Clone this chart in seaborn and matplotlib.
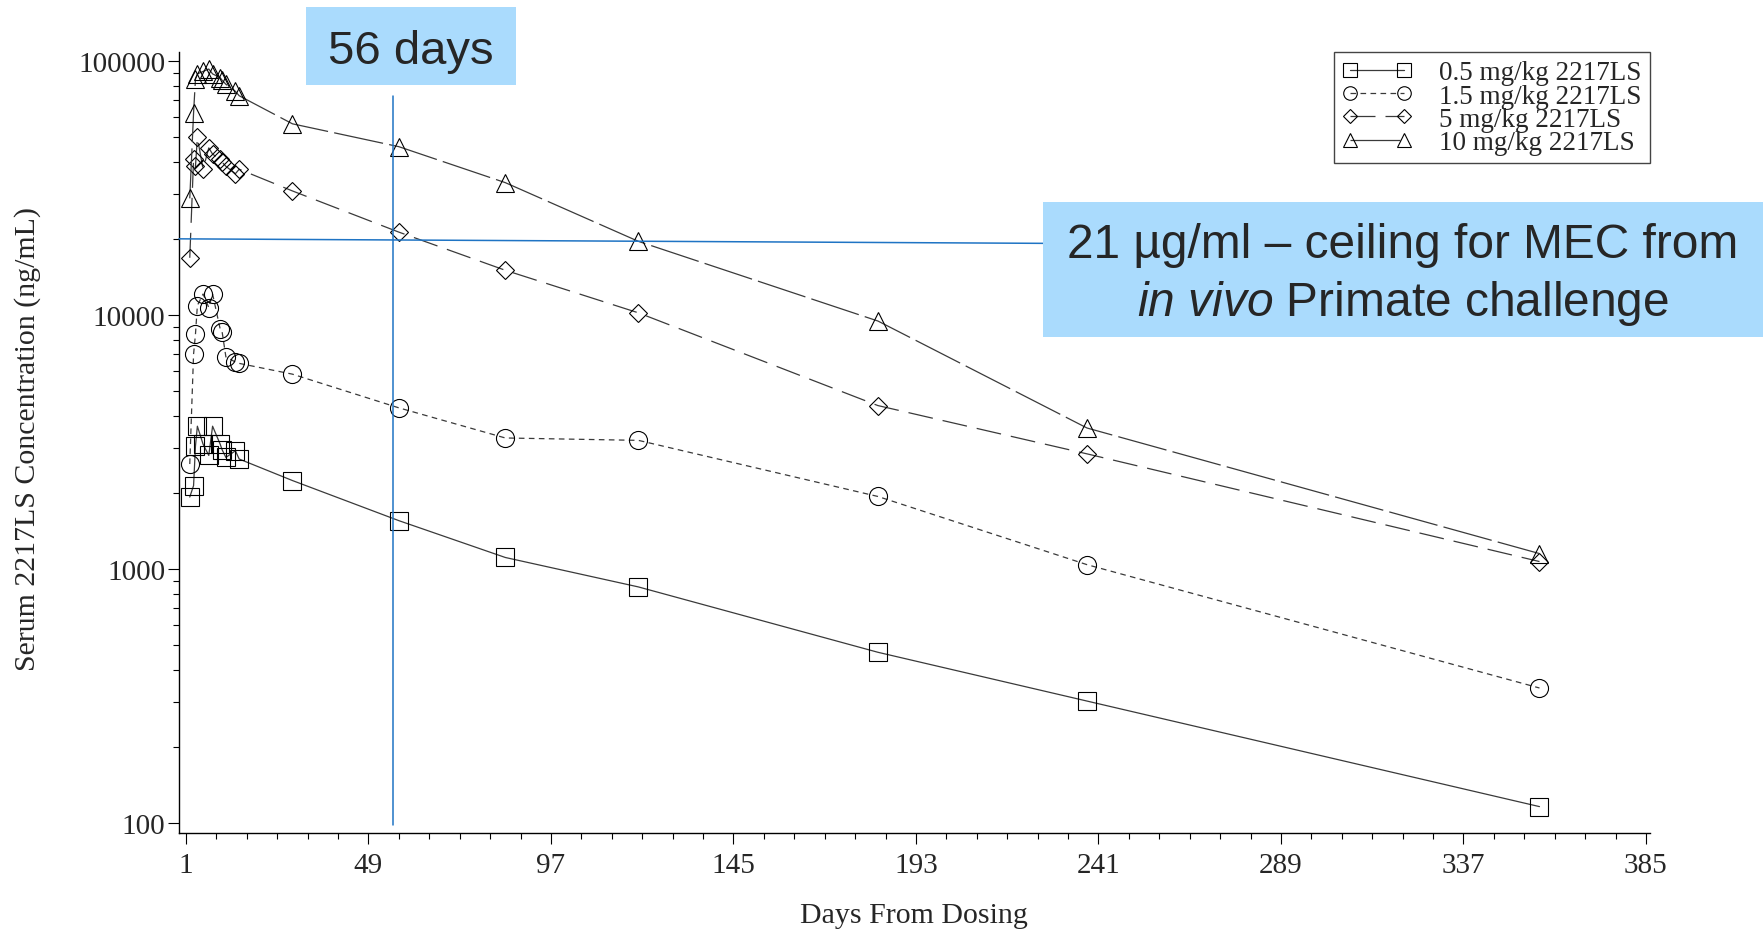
import matplotlib
matplotlib.use("Agg")
import matplotlib.pyplot as plt
import seaborn as sns
import numpy as np
import pandas as pd
from matplotlib.ticker import FixedLocator, LogLocator, NullFormatter, FuncFormatter
from matplotlib.lines import Line2D
from matplotlib.patches import Rectangle

# ---------------- data ----------------
days = [2, 3, 3.5, 4, 5.5, 7, 8, 10, 10.5, 11.5, 14, 15, 29, 57, 85, 120, 183, 238, 357]
conc_0p5 = [1920, 2130, 3050, 3650, 3100, 2800, 3650, 3100, 2950, 2750, 2920, 2710,
            2230, 1550, 1110, 850, 470, 302, 116]
conc_1p5 = [2590, 7010, 8410, 10900, 12100, 10700, 12100, 8800, 8600, 6840, 6530, 6450,
            5850, 4310, 3280, 3210, 1930, 1040, 340]
conc_5 = [16800, 41000, 38500, 50000, 37500, 45500, 43000, 41000, 40000, 38500, 36000, 37500,
          30800, 21200, 15000, 10200, 4400, 2840, 1070]
conc_10 = [28800, 62500, 85000, 89000, 91000, 93000, 89000, 86000, 84000, 81000, 76000, 73000,
           56600, 46000, 33200, 19500, 9470, 3590, 1150]
series_labels = ["0.5 mg/kg 2217LS", "1.5 mg/kg 2217LS", "5 mg/kg 2217LS", "10 mg/kg 2217LS"]

x_ticks = [1, 49, 97, 145, 193, 241, 289, 337, 385]
y_ticks = [100, 1000, 10000, 100000]

cutoff_day = 55.5             # "56 days" marker line
cutoff_span = (98, 72800)
mec_line_days = (-0.84, 226.5)  # 21 ug/ml reference line
mec_line_conc = (19950, 19150)

# ---------------- style ----------------
sns.set_style("ticks")
plt.rcParams["font.family"] = ["Liberation Serif", "DejaVu Serif"]
plt.rcParams["mathtext.fontset"] = "custom"
plt.rcParams["mathtext.rm"] = "Liberation Sans"
plt.rcParams["mathtext.it"] = "Liberation Sans:italic"

fig = plt.figure(figsize=(17.65, 9.37), dpi=100)
fig.patch.set_facecolor("white")
ax = fig.add_axes([0.1014, 0.1099, 0.8334, 0.8335])
ax.set_facecolor("white")

line_col = "#3a3a3a"
specs = [
    (conc_0p5, "s", 12.5, "-"),
    (conc_1p5, "o", 13.0, (0, (4.5, 3.5))),
    (conc_5, "D", 9.2, (0, (20, 8))),
    (conc_10, "^", 13.5, (0, (40, 5))),
]

handles = []
for (vals, mk, ms, ls), lab in zip(specs, series_labels):
    df = pd.DataFrame({"day": days, "conc": vals})
    sns.lineplot(data=df, x="day", y="conc", ax=ax, color=line_col, linewidth=0.9,
                 linestyle=ls, marker=mk, markersize=ms, markerfacecolor="none",
                 markeredgecolor="black", markeredgewidth=0.8, sort=False,
                 estimator=None, legend=False)
    handles.append(Line2D([], [], color=line_col, linewidth=0.9, linestyle=ls,
                          marker=mk, markersize=ms * 0.75, markerfacecolor="none",
                          markeredgecolor="black", markeredgewidth=0.8, label=lab))

ax.set_yscale("log")
ax.set_xlim(-0.84, 386.05)
ax.set_ylim(91.3, 108500)

ax.xaxis.set_major_locator(FixedLocator(x_ticks))
ax.xaxis.set_minor_locator(FixedLocator(np.arange(x_ticks[0], x_ticks[-1] + 1, 8)))
ax.yaxis.set_major_locator(FixedLocator(y_ticks))
ax.yaxis.set_minor_locator(LogLocator(base=10, subs=np.arange(2, 10)))
ax.yaxis.set_major_formatter(FuncFormatter(lambda v, p: f"{int(round(v))}"))
ax.yaxis.set_minor_formatter(NullFormatter())

ax.tick_params(axis="both", which="major", length=8, width=0.8, labelsize=21, color="black")
ax.tick_params(axis="x", which="major", pad=6)
ax.tick_params(axis="y", which="major", pad=2)
ax.tick_params(axis="both", which="minor", length=4.5, width=0.8, color="black")

for s in ["top", "right"]:
    ax.spines[s].set_visible(False)
for s in ["left", "bottom"]:
    ax.spines[s].set_linewidth(1.0)
    ax.spines[s].set_color("black")

ax.set_xlabel("Days From Dosing", fontsize=21.5)
ax.set_ylabel("Serum 2217LS Concentration (ng/mL)", fontsize=21.5)
ax.xaxis.set_label_coords(0.4997, -0.088)
ax.yaxis.set_label_coords(-0.094, 0.506)

leg = ax.legend(handles=handles, loc="upper right", bbox_to_anchor=(1.0, 1.0),
                numpoints=2, fontsize=19.5, frameon=True, fancybox=False, framealpha=1,
                edgecolor="#444444", borderpad=0.3, labelspacing=-0.06,
                handlelength=2.6, handletextpad=1.0, borderaxespad=0.0)
leg.get_frame().set_linewidth(1.0)

# reference lines
blue = "#1f74c4"
ax.plot([cutoff_day, cutoff_day], list(cutoff_span), color=blue, linewidth=1.1,
        zorder=10, clip_on=False)
ax.plot(list(mec_line_days), list(mec_line_conc), color=blue, linewidth=1.1,
        zorder=10, clip_on=False)

# annotation boxes
box_col = "#aadbfd"
fig.patches.append(Rectangle((306 / 1765, 1 - 86 / 937), 210 / 1765, 78 / 937,
                             transform=fig.transFigure, facecolor=box_col,
                             edgecolor="none", zorder=5))
fig.text(411 / 1765, 1 - 52 / 937, "56 days", fontsize=34,
         family=["Liberation Sans", "DejaVu Sans"], ha="center", va="center", zorder=6)

fig.patches.append(Rectangle((1043 / 1765, 1 - 338 / 937), 720 / 1765, 135 / 937,
                             transform=fig.transFigure, facecolor=box_col,
                             edgecolor="none", zorder=5))
fig.text(1403 / 1765, 1 - 246 / 937, "21 µg/ml – ceiling for MEC from", fontsize=34.5,
         family=["Liberation Sans", "DejaVu Sans"], ha="center", va="center", zorder=6)
fig.text(1403 / 1765, 1 - 304 / 937, r"$\mathit{in\ vivo}$ Primate challenge", fontsize=34.5,
         family=["Liberation Sans", "DejaVu Sans"], ha="center", va="center", zorder=6)

fig.savefig("out.png", dpi=100, facecolor="white")
